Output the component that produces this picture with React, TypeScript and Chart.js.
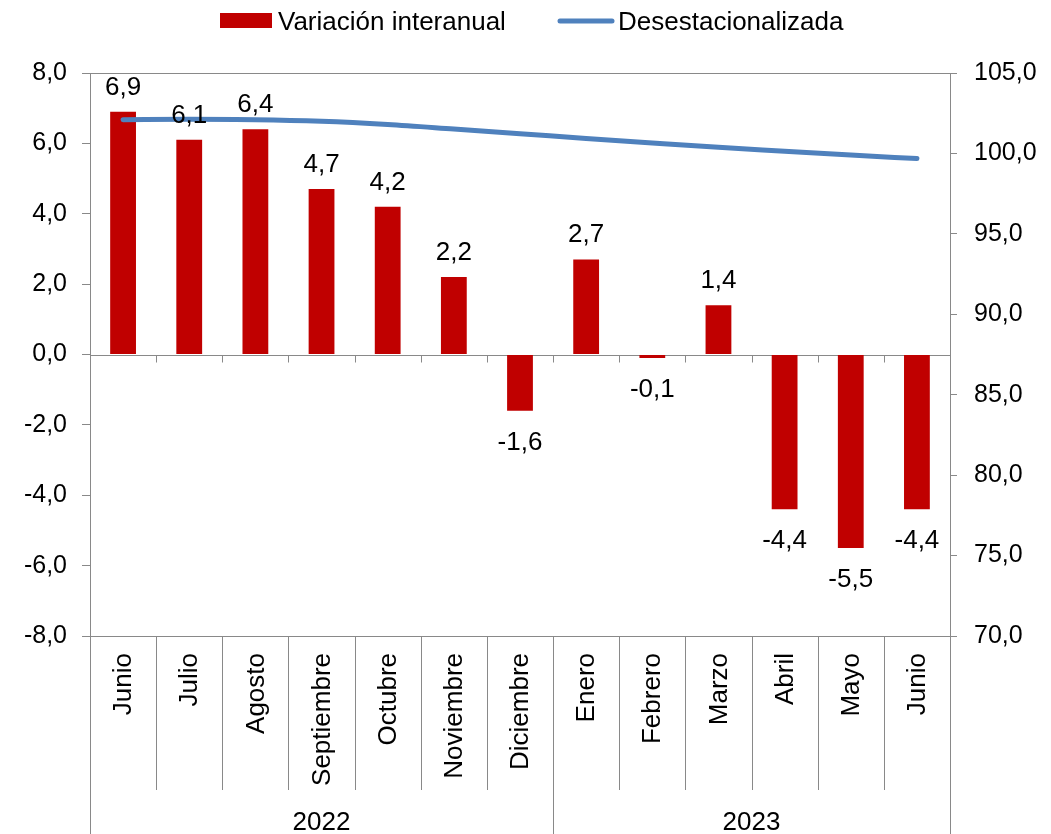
import React, { useEffect, useRef } from 'react';
import { Chart, registerables } from 'chart.js';

Chart.register(...registerables);

// ---- Data ----
const months = ['Junio', 'Julio', 'Agosto', 'Septiembre', 'Octubre', 'Noviembre', 'Diciembre', 'Enero', 'Febrero', 'Marzo', 'Abril', 'Mayo', 'Junio'];
const years = ['2022', '2023'];
const yearSpans = [7, 6];
const variacion = [6.9, 6.1, 6.4, 4.7, 4.2, 2.2, -1.6, 2.7, -0.1, 1.4, -4.4, -5.5, -4.4];
const desestacionalizada = [102.1, 102.12, 102.1, 102.0, 101.8, 101.52, 101.23, 100.93, 100.65, 100.38, 100.14, 99.9, 99.68];
const seriesNames = ['Variación interanual', 'Desestacionalizada'];
const leftAxis = [-8, 8, 2];
const rightAxis = [70, 105, 5];

const BAR = '#C00000';
const LINE = '#4F81BD';
const GRAY = '#898989';
const FONT = "'Liberation Sans', Arial, sans-serif";

const fmt = (v: number) => v.toFixed(1).replace('.', ',');

const overlay = {
  id: 'overlay',
  beforeDatasetsDraw(chart: any) {
    const { ctx, chartArea: a, scales } = chart;
    const y = scales.y;
    const n = months.length;
    const cw = (a.right - a.left) / n;
    ctx.save();
    ctx.strokeStyle = GRAY;
    ctx.lineWidth = 1;
    const top = Math.round(a.top) + 0.5;
    const bot = Math.round(a.bottom) + 0.5;
    const zero = Math.round(y.getPixelForValue(0)) + 0.5;
    ctx.beginPath();
    ctx.moveTo(a.left, top); ctx.lineTo(a.right, top);
    ctx.moveTo(a.left, bot); ctx.lineTo(a.right, bot);
    ctx.moveTo(a.left, zero); ctx.lineTo(a.right, zero);
    for (let k = 1; k < n; k++) {
      const xx = Math.round(a.left + k * cw) + 0.5;
      ctx.moveTo(xx, zero); ctx.lineTo(xx, zero + 7);
    }
    ctx.stroke();
    ctx.restore();
  },
  afterDatasetsDraw(chart: any) {
    const { ctx, chartArea: a, scales } = chart;
    const x = scales.x, y = scales.y;
    const n = months.length;
    const cw = (a.right - a.left) / n;
    const H = chart.height;
    ctx.save();
    // data labels
    ctx.fillStyle = '#000';
    ctx.font = `26px ${FONT}`;
    ctx.textAlign = 'center';
    ctx.textBaseline = 'alphabetic';
    variacion.forEach((v, i) => {
      const cx = x.getPixelForValue(i);
      const py = y.getPixelForValue(v);
      const ty = v >= 0 ? py - 17 : py + 39;
      ctx.fillText(fmt(v), cx, ty);
    });

    // category separators below the plot
    ctx.strokeStyle = GRAY;
    ctx.lineWidth = 1;
    ctx.beginPath();
    const boundaries: number[] = [0];
    let acc = 0;
    yearSpans.forEach((s) => { acc += s; boundaries.push(acc); });
    for (let k = 0; k <= n; k++) {
      const xx = Math.round(a.left + k * cw) + 0.5;
      const isYear = boundaries.includes(k);
      ctx.moveTo(xx, a.bottom);
      ctx.lineTo(xx, isYear ? H : a.bottom + 154);
    }
    ctx.stroke();

    // rotated month labels
    ctx.font = `26px ${FONT}`;
    months.forEach((m, i) => {
      const cx = x.getPixelForValue(i);
      ctx.save();
      ctx.translate(cx + 1, a.bottom + 17);
      ctx.rotate(-Math.PI / 2);
      ctx.textAlign = 'right';
      ctx.textBaseline = 'middle';
      ctx.fillText(m, 0, 0);
      ctx.restore();
    });

    // year labels
    ctx.textAlign = 'center';
    ctx.textBaseline = 'alphabetic';
    years.forEach((yr, j) => {
      const x0 = a.left + boundaries[j] * cw;
      const x1 = a.left + boundaries[j + 1] * cw;
      ctx.fillText(yr, (x0 + x1) / 2, 830);
    });

    // legend
    ctx.textAlign = 'left';
    ctx.fillStyle = BAR;
    ctx.fillRect(220, 13, 52, 15);
    ctx.fillStyle = '#000';
    ctx.fillText(seriesNames[0], 278, 30);
    ctx.strokeStyle = LINE;
    ctx.lineWidth = 5;
    ctx.lineCap = 'round';
    ctx.beginPath();
    ctx.moveTo(560, 21);
    ctx.lineTo(612, 21);
    ctx.stroke();
    ctx.fillText(seriesNames[1], 618, 30);
    ctx.restore();
  },
};

export default function App() {
  const ref = useRef<HTMLCanvasElement>(null);
  useEffect(() => {
    if (!ref.current) return;
    const chart = new Chart(ref.current, {
      type: 'bar',
      data: {
        labels: months,
        datasets: [
          {
            type: 'line',
            label: seriesNames[1],
            data: desestacionalizada,
            yAxisID: 'y1',
            borderColor: LINE,
            backgroundColor: LINE,
            borderWidth: 5,
            borderCapStyle: 'round',
            pointRadius: 0,
            cubicInterpolationMode: 'monotone',
            order: 1,
          } as any,
          {
            type: 'bar',
            label: seriesNames[0],
            data: variacion,
            yAxisID: 'y',
            backgroundColor: BAR,
            barPercentage: 0.39,
            categoryPercentage: 1,
            order: 2,
          },
        ],
      },
      options: {
        responsive: false,
        animation: false,
        layout: { padding: { top: 73, bottom: 198, left: 0, right: 0 } },
        plugins: { legend: { display: false }, tooltip: { enabled: false } },
        scales: {
          x: { display: false, offset: true },
          y: {
            position: 'left',
            min: leftAxis[0],
            max: leftAxis[1],
            afterFit: (s: any) => { s.width = 90; },
            ticks: {
              stepSize: leftAxis[2],
              color: '#000',
              font: { family: FONT, size: 25 },
              padding: 15,
              callback: (v: any) => fmt(Number(v)),
            },
            grid: { drawOnChartArea: false, drawTicks: true, tickLength: 8, color: GRAY },
            border: { display: true, color: GRAY },
          },
          y1: {
            position: 'right',
            min: rightAxis[0],
            max: rightAxis[1],
            afterFit: (s: any) => { s.width = 101; },
            ticks: {
              stepSize: rightAxis[2],
              color: '#000',
              font: { family: FONT, size: 25 },
              padding: 17,
              callback: (v: any) => fmt(Number(v)),
            },
            grid: { drawOnChartArea: false, drawTicks: true, tickLength: 7, color: GRAY },
            border: { display: true, color: GRAY },
          },
        },
      },
      plugins: [overlay],
    });
    return () => chart.destroy();
  }, []);
  return (
    <div style={{ position: 'absolute', left: 0, top: 0, width: 1051, height: 834 }}>
      <canvas ref={ref} width={1051} height={834} style={{ display: 'block', width: 1051, height: 834 }} />
    </div>
  );
}
